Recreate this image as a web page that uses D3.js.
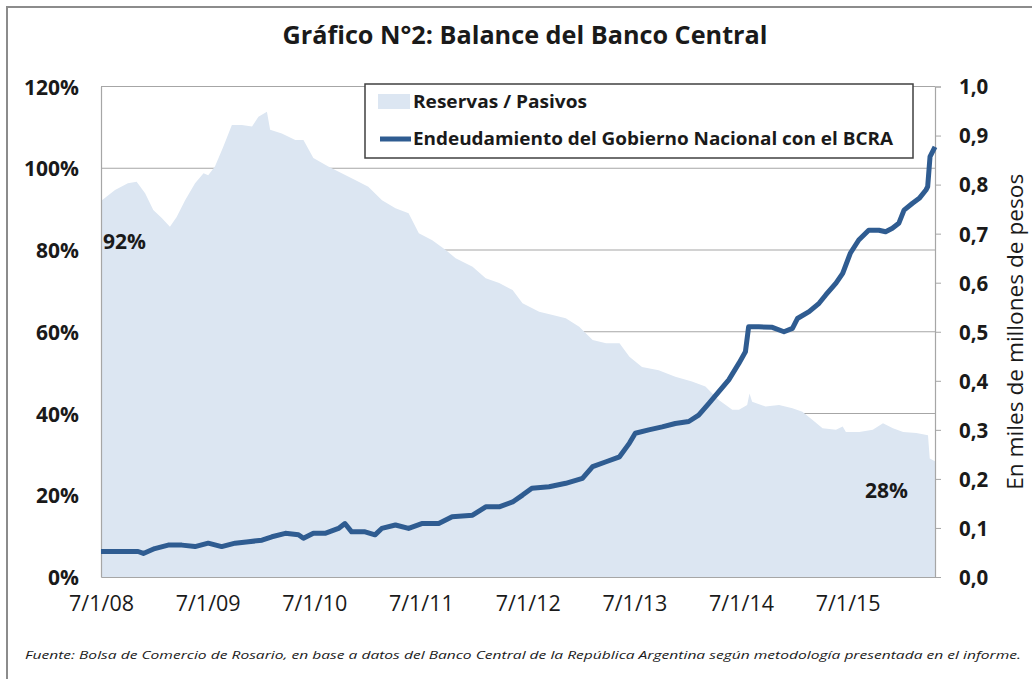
<!DOCTYPE html>
<html>
<head>
<meta charset="utf-8">
<script src="https://cdn.jsdelivr.net/npm/d3@7"></script>
<style>
  body { margin: 0; background: #fff; }
  text { font-family: "Open Sans", "Noto Sans", sans-serif; fill: #1a1a1a; }
</style>
</head>
<body>
<div id="chart"></div>
<script>
// Reservas / Pasivos (%) - left axis
var reservasFechas = ["2008-07-01","2008-08-18","2008-10-01","2008-10-31","2008-11-29","2008-12-27","2009-01-25","2009-02-22",
  "2009-03-17","2009-04-15","2009-05-19","2009-06-17","2009-07-03","2009-07-26","2009-08-24","2009-09-22","2009-10-26",
  "2009-11-30","2009-12-22","2010-01-20","2010-01-31","2010-03-12","2010-04-27","2010-05-25","2010-06-28","2010-08-18",
  "2010-10-03","2010-11-18","2011-01-02","2011-02-18","2011-04-05","2011-05-20","2011-06-24","2011-08-09","2011-09-24",
  "2011-10-28","2011-12-25","2012-02-08","2012-03-25","2012-05-10","2012-06-13","2012-08-09","2012-09-24","2012-11-08",
  "2012-12-24","2013-02-08","2013-03-26","2013-05-11","2013-06-14","2013-07-27","2013-09-22","2013-11-18","2014-01-14",
  "2014-03-01","2014-04-16","2014-06-01","2014-06-24","2014-07-22","2014-07-30","2014-08-08","2014-09-23","2014-11-08",
  "2014-12-24","2015-01-27","2015-03-03","2015-04-06","2015-05-22","2015-06-14","2015-06-25","2015-08-10","2015-09-25",
  "2015-10-30","2015-12-03","2016-01-07","2016-02-21","2016-04-01","2016-04-07","2016-04-25"];
var reservasValores = [92.0,94.7,96.3,96.7,93.9,89.8,87.8,85.7,
  88.1,92.2,96.3,98.8,98.3,100.4,105.3,110.6,110.6,
  110.2,112.6,113.8,109.4,108.5,106.9,106.9,102.5,100.4,
  98.8,97.1,95.5,92.2,90.2,89.0,84.1,82.4,80.0,
  78.0,75.9,73.1,71.9,70.2,67.0,64.9,64.1,63.3,
  61.2,58.0,57.2,57.2,53.9,51.4,50.6,49.0,47.8,
  46.6,43.3,40.9,40.9,42.1,44.9,42.9,41.7,42.1,
  41.3,40.4,38.4,36.4,36.0,36.8,35.5,35.5,36.0,
  37.6,36.4,35.5,35.2,34.7,29.0,28.3];

// Endeudamiento del Gobierno Nacional con el BCRA (miles de millones) - right axis
var deudaFechas = ["2008-07-01","2008-11-05","2008-11-23","2009-01-01","2009-02-16","2009-04-04","2009-05-19","2009-07-03",
  "2009-08-18","2009-10-03","2009-11-18","2010-01-03","2010-02-06","2010-03-24","2010-05-08","2010-05-25","2010-06-28",
  "2010-08-07","2010-09-22","2010-10-14","2010-11-06","2010-12-22","2011-01-25","2011-02-17","2011-04-05","2011-05-20",
  "2011-07-04","2011-08-31","2011-10-16","2011-12-25","2012-02-08","2012-03-25","2012-05-10","2012-06-13","2012-07-15",
  "2012-09-12","2012-11-08","2013-01-04","2013-02-08","2013-03-26","2013-05-11","2013-06-14","2013-07-04","2013-08-19",
  "2013-10-04","2013-11-18","2014-01-03","2014-02-06","2014-03-13","2014-04-16","2014-05-20","2014-06-24","2014-07-16",
  "2014-07-27","2014-08-31","2014-10-16","2014-11-25","2014-12-24","2015-01-10","2015-02-19","2015-03-25","2015-04-17",
  "2015-05-22","2015-06-14","2015-07-10","2015-08-08","2015-09-11","2015-10-16","2015-11-08","2015-12-01","2015-12-23",
  "2016-01-10","2016-02-08","2016-03-02","2016-03-25","2016-03-31","2016-04-08","2016-04-25"];
var deudaValores = [0.052,0.052,0.048,0.058,0.065,0.065,0.062,0.069,
  0.062,0.069,0.072,0.075,0.082,0.089,0.086,0.079,0.089,
  0.089,0.099,0.109,0.092,0.092,0.086,0.099,0.106,0.099,
  0.109,0.109,0.123,0.126,0.143,0.143,0.153,0.167,0.181,
  0.184,0.191,0.201,0.225,0.235,0.245,0.273,0.293,0.300,
  0.306,0.313,0.317,0.330,0.354,0.378,0.402,0.436,0.459,
  0.510,0.510,0.509,0.500,0.507,0.527,0.541,0.558,0.575,
  0.599,0.619,0.660,0.687,0.707,0.707,0.704,0.711,0.721,
  0.748,0.762,0.772,0.789,0.796,0.857,0.877];

var ticksIzq = [0, 20, 40, 60, 80, 100, 120];
var ticksDer = [0, 0.1, 0.2, 0.3, 0.4, 0.5, 0.6, 0.7, 0.8, 0.9, 1.0];
var ticksFechas = ["2008-07-01","2009-07-01","2010-07-01","2011-07-01","2012-07-01","2013-07-01","2014-07-01","2015-07-01"];

var titulo = "Gráfico N°2: Balance del Banco Central";
var serieArea = "Reservas / Pasivos";
var serieLinea = "Endeudamiento del Gobierno Nacional con el BCRA";
var tituloDer = "En miles de millones de pesos";
var fuente = "Fuente: Bolsa de Comercio de Rosario, en base a datos del Banco Central de la República Argentina según metodología presentada en el informe.";

const width = 1032, height = 679;
const margin = { top: 86.5, right: 97, bottom: 102, left: 101 };
const areaColor = "#dce6f2", lineColor = "#2f5c91", gridColor = "#a6a6a6";

const parse = d3.timeParse("%Y-%m-%d");
const reservas = reservasFechas.map((d, i) => ({ date: parse(d), value: reservasValores[i] }));
const deuda = deudaFechas.map((d, i) => ({ date: parse(d), value: deudaValores[i] }));

const svg = d3.select("#chart").append("svg")
  .attr("width", width)
  .attr("height", height);

// frame (only top/left edges are visible in the crop)
svg.append("rect")
  .attr("x", 7).attr("y", 7)
  .attr("width", width + 20).attr("height", height + 20)
  .attr("fill", "none").attr("stroke", "#8c8c8c").attr("stroke-width", 2);

var x = d3.scaleTime()
  .domain([parse("2008-07-01"), parse("2016-04-25")])
  .range([margin.left, width - margin.right]);

var yL = d3.scaleLinear().domain([0, 120]).range([height - margin.bottom, margin.top]);
var yR = d3.scaleLinear().domain([0, 1]).range([height - margin.bottom, margin.top]);

// gridlines behind the series
svg.append("g")
  .selectAll("line")
  .data(ticksIzq.slice(1))
  .enter().append("line")
  .attr("x1", margin.left).attr("x2", width - margin.right)
  .attr("y1", d => yL(d)).attr("y2", d => yL(d))
  .attr("stroke", gridColor).attr("stroke-width", 1.2);

svg.append("path")
  .datum(reservas)
  .attr("fill", areaColor)
  .attr("d", d3.area().x(d => x(d.date)).y0(yL(0)).y1(d => yL(d.value)));

// axes
var axisL = svg.append("g")
  .attr("transform", `translate(${margin.left},0)`)
  .call(d3.axisLeft(yL).tickValues(ticksIzq).tickSize(0).tickPadding(22).tickFormat(d => d + "%"));
axisL.select(".domain").attr("stroke", gridColor).attr("stroke-width", 1.2);
axisL.selectAll("text").attr("font-size", 21).attr("font-weight", "bold").attr("dy", "0.36em");

var axisR = svg.append("g")
  .attr("transform", `translate(${width - margin.right},0)`)
  .call(d3.axisRight(yR).tickValues(ticksDer).tickSize(6).tickPadding(18)
    .tickFormat(d => d3.format(".1f")(d).replace(".", ",")));
axisR.select(".domain").attr("stroke", gridColor).attr("stroke-width", 1.2);
axisR.selectAll("line").attr("stroke", gridColor);
axisR.selectAll("text").attr("font-size", 20.5).attr("font-weight", "bold").attr("dy", "0.36em");

var axisB = svg.append("g")
  .attr("transform", `translate(0,${height - margin.bottom})`)
  .call(d3.axisBottom(x).tickValues(ticksFechas.map(parse)).tickSize(0).tickPadding(19)
    .tickFormat(d3.timeFormat("%-m/%-d/%y")));
axisB.select(".domain").attr("stroke", gridColor).attr("stroke-width", 1.2);
axisB.selectAll("text").attr("font-size", 21.5).attr("dy", "0.71em");
svg.selectAll(".tick text").attr("fill", "#1a1a1a");

svg.append("path")
  .datum(deuda)
  .attr("fill", "none")
  .attr("stroke", lineColor)
  .attr("stroke-width", 5)
  .attr("stroke-linejoin", "round")
  .attr("d", d3.line().x(d => x(d.date)).y(d => yR(d.value)));

// data labels on first / last point
var first = reservas[0], last = reservas[reservas.length - 1];
svg.append("text")
  .attr("x", x(first.date) + 2).attr("y", yL(first.value) + 48)
  .attr("font-size", 21).attr("font-weight", "bold")
  .text(Math.round(first.value) + "%");
svg.append("text")
  .attr("x", x(last.date) - 27).attr("y", yL(last.value) + 37)
  .attr("text-anchor", "end")
  .attr("font-size", 21).attr("font-weight", "bold")
  .text(Math.round(last.value) + "%");

// title
svg.append("text")
  .attr("x", 525).attr("y", 44)
  .attr("text-anchor", "middle")
  .attr("font-size", 24.5).attr("font-weight", "bold")
  .attr("textLength", 485).attr("lengthAdjust", "spacingAndGlyphs")
  .text(titulo);

// right axis title
svg.append("text")
  .attr("transform", `translate(1023,${yR(0.5)}) rotate(-90)`)
  .attr("text-anchor", "middle")
  .attr("font-size", 21)
  .attr("textLength", 316).attr("lengthAdjust", "spacingAndGlyphs")
  .text(tituloDer);

// legend
var legend = svg.append("g").attr("transform", "translate(365,84)");
legend.append("rect")
  .attr("width", 548).attr("height", 74)
  .attr("fill", "#fff").attr("stroke", "#404040").attr("stroke-width", 1.5);
legend.append("rect")
  .attr("x", 13).attr("y", 10).attr("width", 32).attr("height", 15)
  .attr("fill", areaColor);
legend.append("text")
  .attr("x", 48).attr("y", 17.5).attr("dy", "0.35em")
  .attr("font-size", 17.5).attr("font-weight", "bold")
  .attr("textLength", 174).attr("lengthAdjust", "spacingAndGlyphs")
  .text(serieArea);
legend.append("line")
  .attr("x1", 15).attr("x2", 46).attr("y1", 55).attr("y2", 55)
  .attr("stroke", lineColor).attr("stroke-width", 5);
legend.append("text")
  .attr("x", 48).attr("y", 55).attr("dy", "0.35em")
  .attr("font-size", 17.5).attr("font-weight", "bold")
  .attr("textLength", 480).attr("lengthAdjust", "spacingAndGlyphs")
  .text(serieLinea);

// source note
svg.append("text")
  .attr("x", 25).attr("y", 659)
  .attr("font-size", 11).attr("font-style", "italic")
  .attr("textLength", 996).attr("lengthAdjust", "spacingAndGlyphs")
  .text(fuente);
</script>
</body>
</html>
